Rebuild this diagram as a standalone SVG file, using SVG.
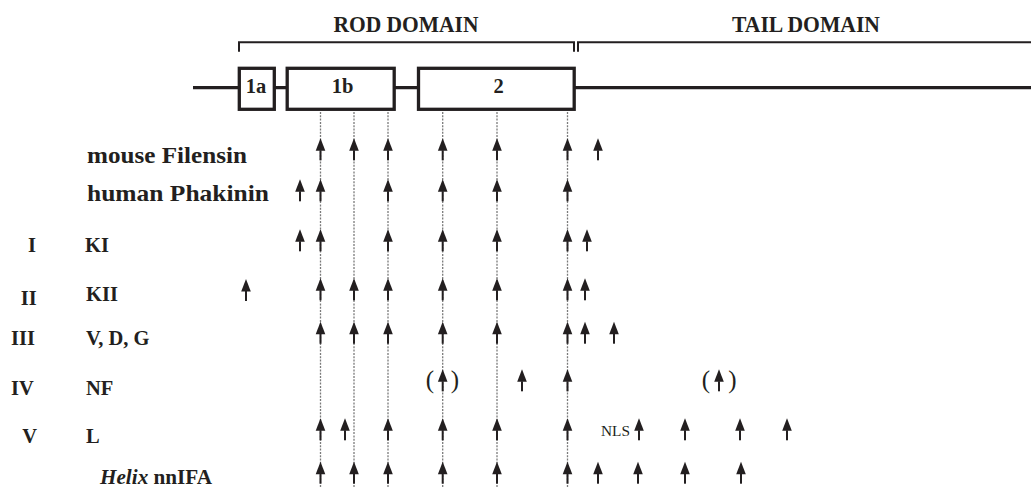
<svg xmlns="http://www.w3.org/2000/svg" xmlns:xlink="http://www.w3.org/1999/xlink" width="1031" height="487" viewBox="0 0 1031 487">
<style>
  text { font-family: "Liberation Serif", "Times New Roman", serif; fill: #231f20; }
  .hd { font-size: 22.5px; font-weight: bold; }
  .lg { font-size: 23px; font-weight: bold; }
  .md { font-size: 20.5px; font-weight: bold; }
  .par { font-size: 25px; text-anchor: middle; }
  .box { fill: #fff; stroke: #231f20; stroke-width: 3.3; }
  .bar { fill: none; stroke: #231f20; stroke-width: 3.2; }
  .brk { fill: none; stroke: #231f20; stroke-width: 2; }
  .dot { stroke: #7a7a7a; stroke-width: 1.3; stroke-dasharray: 2 1.3; }
</style>
<defs>
  <g id="arr" fill="#231f20">
    <polygon points="0,0 -4.8,12.5 4.8,12.5"/>
    <rect x="-1" y="12" width="2" height="10"/>
  </g>
</defs>
<rect width="1031" height="487" fill="#fff"/>

<g id="domain-headers">
  <path class="brk" d="M239,51.7 V42.3 H574 V51.7"/>
  <path class="brk" d="M578,51.7 V42.3 H1031"/>
  <text class="hd" x="406" y="32.3" text-anchor="middle" textLength="145" lengthAdjust="spacingAndGlyphs">ROD DOMAIN</text>
  <text class="hd" x="806" y="32.3" text-anchor="middle" textLength="148" lengthAdjust="spacingAndGlyphs">TAIL DOMAIN</text>
</g>

<g id="backbone">
  <line class="bar" x1="193" y1="87.7" x2="1031" y2="87.7"/>
</g>
<g id="box-1a">
  <rect class="box" x="239.3" y="68.3" width="35" height="41"/>
  <text class="md" x="256" y="93.3" text-anchor="middle">1a</text>
</g>
<g id="box-1b">
  <rect class="box" x="287.2" y="68.3" width="107" height="41"/>
  <text class="md" x="342.5" y="93.3" text-anchor="middle">1b</text>
</g>
<g id="box-2">
  <rect class="box" x="418.5" y="68.3" width="155.7" height="41"/>
  <text class="md" x="498.5" y="93.3" text-anchor="middle">2</text>
</g>

<g id="connectors">
  <line class="dot" x1="320.5" y1="112" x2="320.5" y2="487"/>
  <line class="dot" x1="354" y1="112" x2="354" y2="487"/>
  <line class="dot" x1="388" y1="112" x2="388" y2="487"/>
  <line class="dot" x1="442.7" y1="112" x2="442.7" y2="487"/>
  <line class="dot" x1="497" y1="112" x2="497" y2="487"/>
  <line class="dot" x1="567.5" y1="112" x2="567.5" y2="487"/>
</g>

<g id="labels">
  <text class="lg" x="87" y="162.5" textLength="160" lengthAdjust="spacingAndGlyphs">mouse Filensin</text>
  <text class="lg" x="87" y="201" textLength="182" lengthAdjust="spacingAndGlyphs">human Phakinin</text>
  <text class="md" x="28" y="251.7">I</text>
  <text class="md" x="85" y="251.7">KI</text>
  <text class="md" x="20.7" y="305">II</text>
  <text class="md" x="86" y="301">KII</text>
  <text class="md" x="11" y="345">III</text>
  <text class="md" x="86" y="345">V, D, G</text>
  <text class="md" x="11" y="395">IV</text>
  <text class="md" x="86" y="395">NF</text>
  <text class="md" x="22.3" y="442.7">V</text>
  <text class="md" x="86" y="442.7">L</text>
  <text class="md" x="100" y="484" textLength="112" lengthAdjust="spacingAndGlyphs"><tspan font-style="italic">Helix</tspan> nnIFA</text>
</g>

<g id="row-filensin">
  <use xlink:href="#arr" x="320.5" y="138.3"/>
  <use xlink:href="#arr" x="354" y="138.3"/>
  <use xlink:href="#arr" x="388" y="138.3"/>
  <use xlink:href="#arr" x="442.7" y="138.3"/>
  <use xlink:href="#arr" x="497" y="138.3"/>
  <use xlink:href="#arr" x="567.5" y="138.3"/>
  <use xlink:href="#arr" x="598" y="138.3"/>
</g>
<g id="row-phakinin">
  <use xlink:href="#arr" x="300" y="179.3"/>
  <use xlink:href="#arr" x="320.5" y="179.3"/>
  <use xlink:href="#arr" x="388" y="179.3"/>
  <use xlink:href="#arr" x="442.7" y="179.3"/>
  <use xlink:href="#arr" x="497" y="179.3"/>
  <use xlink:href="#arr" x="567.5" y="179.3"/>
</g>
<g id="row-KI">
  <use xlink:href="#arr" x="300" y="229.3"/>
  <use xlink:href="#arr" x="320.5" y="229.3"/>
  <use xlink:href="#arr" x="388" y="229.3"/>
  <use xlink:href="#arr" x="442.7" y="229.3"/>
  <use xlink:href="#arr" x="497" y="229.3"/>
  <use xlink:href="#arr" x="567.5" y="229.3"/>
  <use xlink:href="#arr" x="587" y="229.3"/>
</g>
<g id="row-KII">
  <use xlink:href="#arr" x="246" y="279"/>
  <use xlink:href="#arr" x="320.5" y="278.3"/>
  <use xlink:href="#arr" x="354" y="278.3"/>
  <use xlink:href="#arr" x="388" y="278.3"/>
  <use xlink:href="#arr" x="442.7" y="278.3"/>
  <use xlink:href="#arr" x="497" y="278.3"/>
  <use xlink:href="#arr" x="567.5" y="278.3"/>
  <use xlink:href="#arr" x="585" y="278.3"/>
</g>
<g id="row-VDG">
  <use xlink:href="#arr" x="320.5" y="321.7"/>
  <use xlink:href="#arr" x="354" y="321.7"/>
  <use xlink:href="#arr" x="388" y="321.7"/>
  <use xlink:href="#arr" x="442.7" y="321.7"/>
  <use xlink:href="#arr" x="497" y="321.7"/>
  <use xlink:href="#arr" x="567.5" y="321.7"/>
  <use xlink:href="#arr" x="585" y="321.7"/>
  <use xlink:href="#arr" x="614" y="321.7"/>
</g>
<g id="row-NF">
  <text class="par" x="430" y="388">(</text>
  <use xlink:href="#arr" x="442.7" y="369.3"/>
  <text class="par" x="455" y="388">)</text>
  <use xlink:href="#arr" x="522" y="369.3"/>
  <use xlink:href="#arr" x="567.5" y="369.3"/>
  <text class="par" x="706" y="388">(</text>
  <use xlink:href="#arr" x="719" y="369.3"/>
  <text class="par" x="732.5" y="388">)</text>
</g>
<g id="row-L">
  <use xlink:href="#arr" x="320.5" y="418.3"/>
  <use xlink:href="#arr" x="345" y="418.3"/>
  <use xlink:href="#arr" x="388" y="418.3"/>
  <use xlink:href="#arr" x="442.7" y="418.3"/>
  <use xlink:href="#arr" x="497" y="418.3"/>
  <use xlink:href="#arr" x="567.5" y="418.3"/>
  <text x="601" y="436" font-size="15.5" textLength="29" lengthAdjust="spacingAndGlyphs">NLS</text>
  <use xlink:href="#arr" x="639" y="418.3"/>
  <use xlink:href="#arr" x="685" y="418.3"/>
  <use xlink:href="#arr" x="740" y="418.3"/>
  <use xlink:href="#arr" x="787" y="418.3"/>
</g>
<g id="row-Helix">
  <use xlink:href="#arr" x="320.5" y="461.7"/>
  <use xlink:href="#arr" x="354" y="461.7"/>
  <use xlink:href="#arr" x="388" y="461.7"/>
  <use xlink:href="#arr" x="442.7" y="461.7"/>
  <use xlink:href="#arr" x="497" y="461.7"/>
  <use xlink:href="#arr" x="567.5" y="461.7"/>
  <use xlink:href="#arr" x="598" y="461.7"/>
  <use xlink:href="#arr" x="638" y="461.7"/>
  <use xlink:href="#arr" x="685" y="461.7"/>
  <use xlink:href="#arr" x="741" y="461.7"/>
</g>
</svg>
